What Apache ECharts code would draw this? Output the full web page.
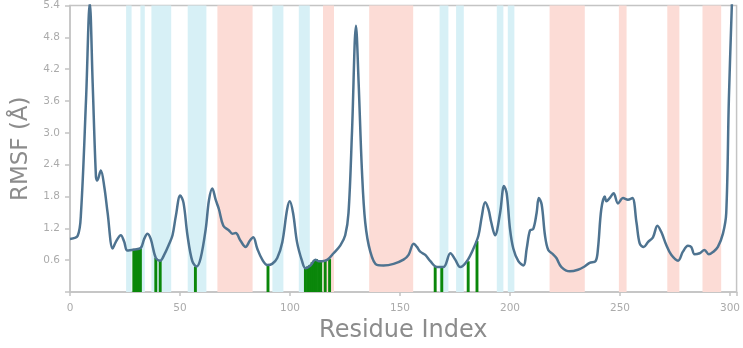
<!DOCTYPE html>
<html>
<head>
<meta charset="utf-8">
<script src="https://cdn.jsdelivr.net/npm/echarts@6/dist/echarts.min.js"></script>
<style>
  html, body { margin: 0; padding: 0; background: #fff; }
  #rmsfChart { width: 743px; height: 348px; }
</style>
</head>
<body>
<div id="rmsfChart"></div>
<script>
// RMSF 曲线（残基序号 / 数值）
var residues = [0, 3.5, 5.0, 7.3, 9.0, 10.3, 11.8, 12.4, 14.0, 15.6, 17.1, 19.4, 20.9, 23.1, 24.6, 26.1, 29.2, 32.2, 33.7, 35.2,
  36.7, 39.0, 41.0, 42.8, 45.1, 46.6, 48.1, 50.1, 51.6, 53.4, 55.6, 57.6, 59.4, 61.7, 63.2, 64.7, 66.2, 67.7, 69.7, 72.3,
  73.8, 75.3, 77.6, 79.8, 81.8, 83.3, 85.1, 87.4, 89.7, 91.9, 94.2, 96.5, 98.7, 99.9, 101.4, 103.2, 105.5, 107.0, 109.3, 111.5,
  113.0, 114.6, 117.1, 119.8, 122.9, 125.1, 126.6, 128.2, 130.0, 131.2, 132.7, 134.2, 136.5, 139.5, 142.5, 147.1, 151.6, 153.9, 156.2, 157.7,
  159.2, 161.5, 163.8, 166.8, 169.8, 172.9, 175.1, 177.4, 180.4, 183.4, 185.7, 187.2, 188.7, 190.2, 191.5, 193.2, 195.5, 197.3, 198.5, 200.0,
  201.5, 203.8, 206.1, 207.6, 209.1, 210.6, 212.1, 213.1, 214.4, 215.9, 217.4, 219.6, 221.1, 223.4, 227.2, 230.9, 233.9, 236.2, 238.9, 240.0,
  241.5, 243.1, 243.8, 245.3, 247.1, 249.1, 251.4, 253.6, 255.6, 257.5, 259.0, 260.8, 262.7, 265.0, 267.0, 268.8, 271.1, 273.3, 276.4, 278.6,
  280.9, 282.4, 283.9, 286.2, 288.4, 290.4, 292.5, 294.5, 296.8, 298.3, 299.5, 301.0];
var rmsf = [1.00, 1.06, 1.49, 3.64, 5.45, 3.94, 2.17, 2.10, 2.29, 1.98, 1.49, 0.82, 0.95, 1.07, 0.95, 0.78, 0.80, 0.83, 1.00, 1.10,
  1.00, 0.64, 0.59, 0.70, 0.91, 1.07, 1.43, 1.82, 1.68, 1.07, 0.58, 0.48, 0.64, 1.19, 1.74, 1.95, 1.74, 1.56, 1.25, 1.16,
  1.10, 1.11, 0.96, 0.85, 0.97, 1.03, 0.82, 0.61, 0.51, 0.53, 0.64, 0.94, 1.56, 1.71, 1.49, 0.94, 0.58, 0.45, 0.50, 0.61,
  0.58, 0.58, 0.61, 0.73, 0.88, 1.07, 1.49, 3.03, 5.02, 3.94, 2.29, 1.31, 0.76, 0.51, 0.50, 0.53, 0.61, 0.70, 0.91, 0.85,
  0.76, 0.70, 0.58, 0.47, 0.47, 0.73, 0.61, 0.47, 0.58, 0.82, 1.07, 1.43, 1.69, 1.56, 1.31, 1.07, 1.49, 2.00, 1.86, 1.19,
  0.82, 0.58, 0.50, 0.82, 1.16, 1.19, 1.49, 1.77, 1.65, 1.07, 0.79, 0.71, 0.64, 0.47, 0.39, 0.42, 0.48, 0.55, 0.58, 0.82,
  1.56, 1.80, 1.71, 1.77, 1.86, 1.67, 1.77, 1.74, 1.77, 1.31, 0.91, 0.85, 0.94, 1.03, 1.25, 1.13, 0.88, 0.70, 0.59, 0.76,
  0.87, 0.85, 0.71, 0.73, 0.79, 0.71, 0.76, 0.85, 1.10, 1.49, 3.64, 5.60];

// 绿色竖线（接触残基）
var contactResidues = [29, 30, 31, 32, 39, 41, 57, 90, 107, 108, 109, 110, 111, 112, 113, 114, 116, 118, 166, 169, 181, 185];
var contactHeights = [0.79, 0.80, 0.81, 0.82, 0.64, 0.60, 0.48, 0.51, 0.45, 0.48, 0.51, 0.56, 0.60, 0.62, 0.59, 0.58, 0.59, 0.62, 0.47, 0.47, 0.58, 0.96];

// 背景色带：蓝色 / 浅红色
var blueBands = [[25.5, 28], [32, 34], [37, 46], [53.5, 62], [92, 97], [104, 109], [168, 172], [175.5, 179], [194, 197], [199, 202]];
var salmonBands = [[67, 83], [115, 120], [136, 156], [218, 234], [249.5, 253], [271.5, 277], [287.5, 296]];

var xTicks = [0, 50, 100, 150, 200, 250, 300];
var yTicks = [0.6, 1.2, 1.8, 2.4, 3.0, 3.6, 4.2, 4.8, 5.4];

var lineData = residues.map(function (r, i) { return [r, rmsf[i]]; });
var barData = contactResidues.map(function (r, i) { return [r, contactHeights[i]]; });
var bandData = [];
blueBands.forEach(function (b) {
  bandData.push([{ xAxis: b[0], itemStyle: { color: '#d7f0f6' } }, { xAxis: b[1] }]);
});
salmonBands.forEach(function (b) {
  bandData.push([{ xAxis: b[0], itemStyle: { color: '#fcdcd6' } }, { xAxis: b[1] }]);
});

var chart = echarts.init(document.getElementById('rmsfChart'));
var axisGray = '#c4c4c4';
var labelGray = '#ababab';

var option = {
  animation: false,
  grid: {
    left: 70, right: 6, top: 4, bottom: 49,
    show: true, borderColor: axisGray, borderWidth: 1.5, backgroundColor: 'transparent'
  },
  xAxis: {
    type: 'value', min: 0, max: 303, interval: 50,
    name: 'Residue Index', nameLocation: 'middle', nameGap: 27,
    nameTextStyle: { color: '#8c8c8c', fontSize: 24, fontFamily: 'DejaVu Sans' },
    axisLine: { show: true, lineStyle: { color: axisGray, width: 1.5 } },
    axisTick: { show: true, length: 4, lineStyle: { color: axisGray, width: 1.5 } },
    splitLine: { show: false },
    axisLabel: {
      color: labelGray, fontSize: 10.5, fontFamily: 'DejaVu Sans', margin: 11,
      formatter: function (v) { return xTicks.indexOf(v) >= 0 ? String(v) : ''; }
    }
  },
  yAxis: {
    type: 'value', min: 0, max: 5.4, interval: 0.6,
    name: 'RMSF (Å)', nameLocation: 'middle', nameGap: 24,
    nameTextStyle: { color: '#8c8c8c', fontSize: 23, fontFamily: 'DejaVu Sans' },
    axisLine: { show: true, lineStyle: { color: axisGray, width: 1.5 } },
    axisTick: { show: true, length: 5, lineStyle: { color: axisGray, width: 1.5 } },
    splitLine: { show: false },
    axisLabel: {
      color: labelGray, fontSize: 10.5, fontFamily: 'DejaVu Sans', margin: 10,
      formatter: function (v) {
        var t = Math.round(v * 10) / 10;
        return yTicks.indexOf(t) >= 0 ? t.toFixed(1) : '';
      }
    }
  },
  series: [
    {
      type: 'line', data: [], z: 1, silent: true,
      markArea: { silent: true, data: bandData }
    },
    {
      type: 'bar', data: barData, barWidth: 2.9, z: 2,
      itemStyle: { color: '#0a870a' }
    },
    {
      type: 'line', data: lineData, z: 3, smooth: 0.35,
      showSymbol: false, clip: true,
      lineStyle: { color: '#4e7390', width: 2.5 }
    }
  ]
};
chart.setOption(option);
</script>
</body>
</html>
